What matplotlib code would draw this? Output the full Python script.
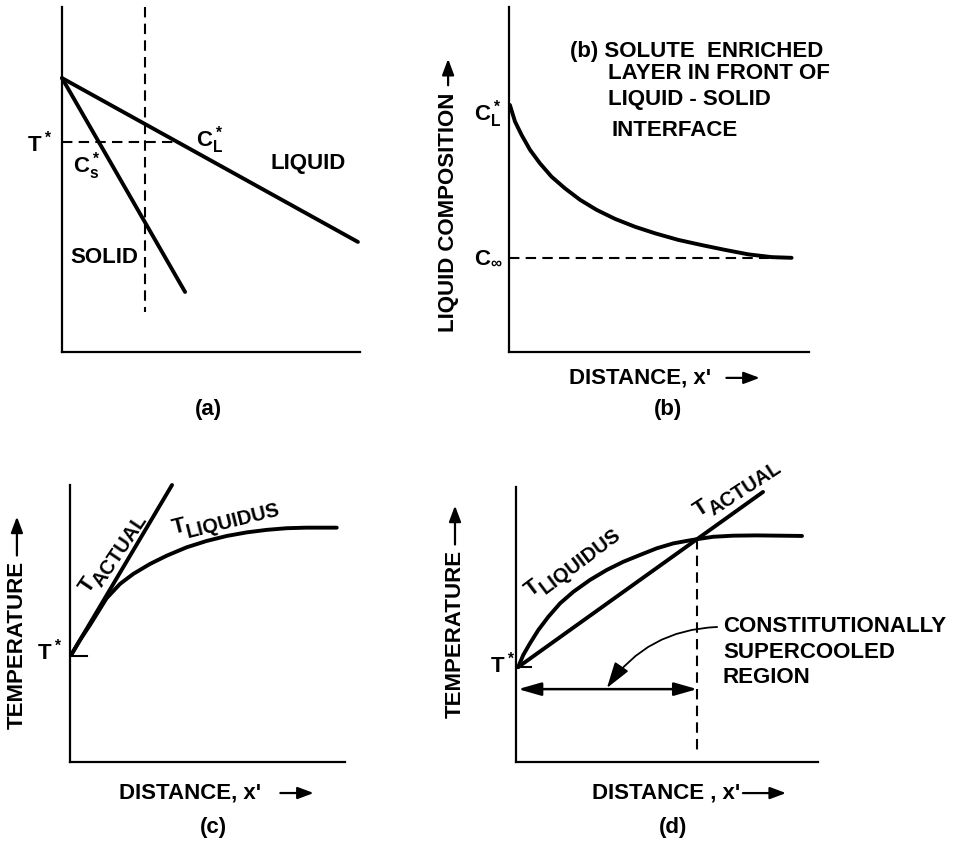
import numpy as np
import matplotlib
matplotlib.use("Agg")
import matplotlib.pyplot as plt
from matplotlib import font_manager
from matplotlib.text import OffsetFrom
from matplotlib.transforms import offset_copy

# narrow bold sans is closest to the stencil lettering of the original
installed = {f.name for f in font_manager.fontManager.ttflist}
if "Liberation Sans Narrow" in installed:
    FONT, FS = "Liberation Sans Narrow", 19
else:
    FONT, FS = "Liberation Sans", 16
plt.rcParams["font.family"] = [FONT, "DejaVu Sans"]
plt.rcParams["font.weight"] = "bold"
plt.rcParams["mathtext.default"] = "regular"

# ---- data, every panel in its own 0..10 units ----
# (a) phase diagram
a_liquidus_x = [0.0, 9.93]
a_liquidus_y = [7.94, 3.19]
a_solidus_x = [0.0, 4.13]
a_solidus_y = [7.94, 1.74]
a_tstar = 6.09
a_tstar_end = 3.79
a_interface_x = 2.79
a_interface_y = [10.0, 1.16]

# (b) solute profile ahead of the interface
b_x = [0.03, 0.20, 0.42, 0.70, 1.03, 1.42, 1.87, 2.37, 2.92, 3.53, 4.20,
       4.87, 5.64, 6.42, 7.20, 7.98, 8.76, 9.42]
b_y = [7.16, 6.68, 6.29, 5.86, 5.47, 5.08, 4.74, 4.41, 4.12, 3.86, 3.63,
       3.44, 3.25, 3.10, 2.96, 2.83, 2.75, 2.73]
b_cinf = 2.72

# (c) stable interface
c_tstar = 3.82
c_actual_x = [0.04, 3.71]
c_actual_y = [3.86, 10.0]
c_liq_x = [0.04, 0.36, 0.73, 1.03, 1.33, 1.82, 2.30, 2.91, 3.52, 4.24, 4.97,
           5.70, 6.43, 7.15, 7.88, 8.61, 9.70]
c_liq_y = [3.86, 4.40, 4.95, 5.43, 5.91, 6.43, 6.79, 7.15, 7.45, 7.75, 7.98,
           8.16, 8.29, 8.38, 8.44, 8.46, 8.46]

# (d) constitutional supercooling
d_tstar = 3.45
d_actual_x = [0.07, 8.18]
d_actual_y = [3.45, 9.82]
d_liq_x = [0.07, 0.24, 0.46, 0.74, 1.07, 1.46, 1.90, 2.45, 3.00, 3.55, 4.11,
           4.66, 5.21, 5.76, 5.98, 6.53, 7.19, 7.97, 8.74, 9.47]
d_liq_y = [3.45, 3.89, 4.31, 4.80, 5.28, 5.77, 6.19, 6.62, 6.98, 7.28, 7.53,
           7.77, 7.95, 8.06, 8.10, 8.19, 8.23, 8.24, 8.23, 8.22]
d_cross_x = 6.0
d_cross_y = 8.10
d_region_y = 2.65

W, H = 970, 844
fig = plt.figure(figsize=(W / 100, H / 100), dpi=100)

LW = 2.8
DASH = (0, (5, 3))


def panel(l, t, r, b):
    ax = fig.add_axes([l / W, 1 - b / H, (r - l) / W, (b - t) / H])
    ax.set_xlim(0, 10)
    ax.set_ylim(0, 10)
    for s in ("top", "right"):
        ax.spines[s].set_visible(False)
    for s in ("left", "bottom"):
        ax.spines[s].set_linewidth(1.6)
    ax.set_xticks([])
    ax.set_yticks([])
    ax.patch.set_alpha(0)
    return ax


def curve(ax, x, y):
    ax.plot(x, y, color="k", lw=LW, solid_capstyle="round",
            solid_joinstyle="round", clip_on=False)


def dashed(ax, x, y):
    ax.plot(x, y, color="k", lw=1.5, linestyle=DASH, clip_on=False)


def label(ax, x, y, s, **kw):
    return ax.text(x, y, s, fontsize=FS, ha=kw.pop("ha", "center"),
                   va=kw.pop("va", "center"), **kw)


def arrow_label(ax, x, y, s, ref, start, end, rotation=0):
    # axis title followed by a solid-headed arrow
    t = label(ax, x, y, s, rotation=rotation)
    off = OffsetFrom(t, ref, unit="points")
    ax.annotate("", xy=end, xycoords=off, xytext=start, textcoords=off,
                arrowprops=dict(arrowstyle="-|>,head_length=0.8,head_width=0.3",
                                color="k", lw=1.6, mutation_scale=12,
                                shrinkA=0, shrinkB=0))
    return t


def sub_label(ax, x, y, main, sub, angle, along=9.0, drop=5.0):
    # "T" with a lowered subscript word, both turned to the same angle
    ax.text(x, y, main, fontsize=FS, rotation=angle, rotation_mode="anchor",
            ha="left", va="baseline")
    a = np.radians(angle)
    dx = along * np.cos(a) + drop * np.sin(a)
    dy = along * np.sin(a) - drop * np.cos(a)
    tr = offset_copy(ax.transData, fig=fig, x=dx, y=dy, units="points")
    ax.text(x, y, sub, transform=tr, fontsize=FS * 0.9, rotation=angle,
            rotation_mode="anchor", ha="left", va="baseline")


# ---------- (a) ----------
ax = panel(62, 7, 360, 352)
dashed(ax, [0, a_tstar_end], [a_tstar, a_tstar])
dashed(ax, [a_interface_x, a_interface_x], a_interface_y)
curve(ax, a_liquidus_x, a_liquidus_y)
curve(ax, a_solidus_x, a_solidus_y)
label(ax, -0.74, 6.03, "T$^*$")
label(ax, 4.97, 6.14, "C$_L^*$")
label(ax, 0.84, 5.39, "C$_s^*$")
label(ax, 8.26, 5.45, "LIQUID")
label(ax, 1.41, 2.75, "SOLID")
label(ax, 4.9, -1.68, "(a)")

# ---------- (b) ----------
ax = panel(509, 7, 809, 352)
dashed(ax, [0, b_x[-1]], [b_cinf, b_cinf])
curve(ax, b_x, b_y)
label(ax, -0.7, 6.9, "C$_L^*$")
label(ax, -0.7, 2.72, "C$_\\infty$")
label(ax, 2.03, 8.72, "(b) SOLUTE  ENRICHED", ha="left")
label(ax, 3.3, 8.06, "LAYER IN FRONT OF", ha="left")
label(ax, 3.3, 7.33, "LIQUID - SOLID", ha="left")
label(ax, 3.43, 6.43, "INTERFACE", ha="left")
arrow_label(ax, -2.03, 4.06, "LIQUID COMPOSITION", (0.5, 1), (0, 5), (0, 24),
            rotation=90)
arrow_label(ax, 4.37, -0.75, "DISTANCE, x'", (1, 0.5), (11, 0), (35, 0))
label(ax, 5.3, -1.68, "(b)")

# ---------- (c) ----------
ax = panel(70, 485, 345, 762)
ax.plot([0, 0.62], [c_tstar, c_tstar], color="k", lw=1.5)
curve(ax, c_actual_x, c_actual_y)
curve(ax, c_liq_x, c_liq_y)
label(ax, -0.73, 4.0, "T$^*$")
sub_label(ax, 0.67, 6.06, "T", "ACTUAL", 56)
sub_label(ax, 3.78, 8.22, "T", "LIQUIDUS", 14)
arrow_label(ax, -1.93, 4.22, "TEMPERATURE", (0.5, 1), (0, 4), (0, 32),
            rotation=90)
arrow_label(ax, 4.36, -1.12, "DISTANCE, x'", (1, 0.5), (14, 0), (38, 0))
label(ax, 5.2, -2.38, "(c)")

# ---------- (d) ----------
ax = panel(516, 487, 818, 762)
ax.plot([0, 0.5], [d_tstar, d_tstar], color="k", lw=1.5)
dashed(ax, [d_cross_x, d_cross_x], [d_cross_y, 0.25])
curve(ax, d_actual_x, d_actual_y)
curve(ax, d_liq_x, d_liq_y)
ax.annotate("", xy=(d_actual_x[0], d_region_y), xytext=(d_cross_x, d_region_y),
            arrowprops=dict(arrowstyle="<|-|>,head_length=0.7,head_width=0.2",
                            color="k", lw=1.8, mutation_scale=20,
                            shrinkA=0, shrinkB=0))
ax.annotate("", xy=(3.01, 2.69), xytext=(6.66, 4.91),
            arrowprops=dict(arrowstyle="-|>,head_length=0.8,head_width=0.25",
                            color="k", lw=1.3, mutation_scale=20,
                            shrinkA=0, shrinkB=0,
                            connectionstyle="arc3,rad=0.25"))
label(ax, 6.85, 4.91, "CONSTITUTIONALLY", ha="left")
label(ax, 6.85, 4.0, "SUPERCOOLED", ha="left")
label(ax, 6.85, 3.09, "REGION", ha="left")
label(ax, -0.43, 3.53, "T$^*$")
sub_label(ax, 0.50, 6.0, "T", "LIQUIDUS", 37)
sub_label(ax, 6.06, 8.91, "T", "ACTUAL", 33)
arrow_label(ax, -2.02, 4.65, "TEMPERATURE", (0.5, 1), (0, 4), (0, 32),
            rotation=90)
arrow_label(ax, 4.97, -1.13, "DISTANCE , x'", (1, 0.5), (2, 0), (33, 0))
label(ax, 5.2, -2.4, "(d)")

fig.savefig("out.png", dpi=100)
